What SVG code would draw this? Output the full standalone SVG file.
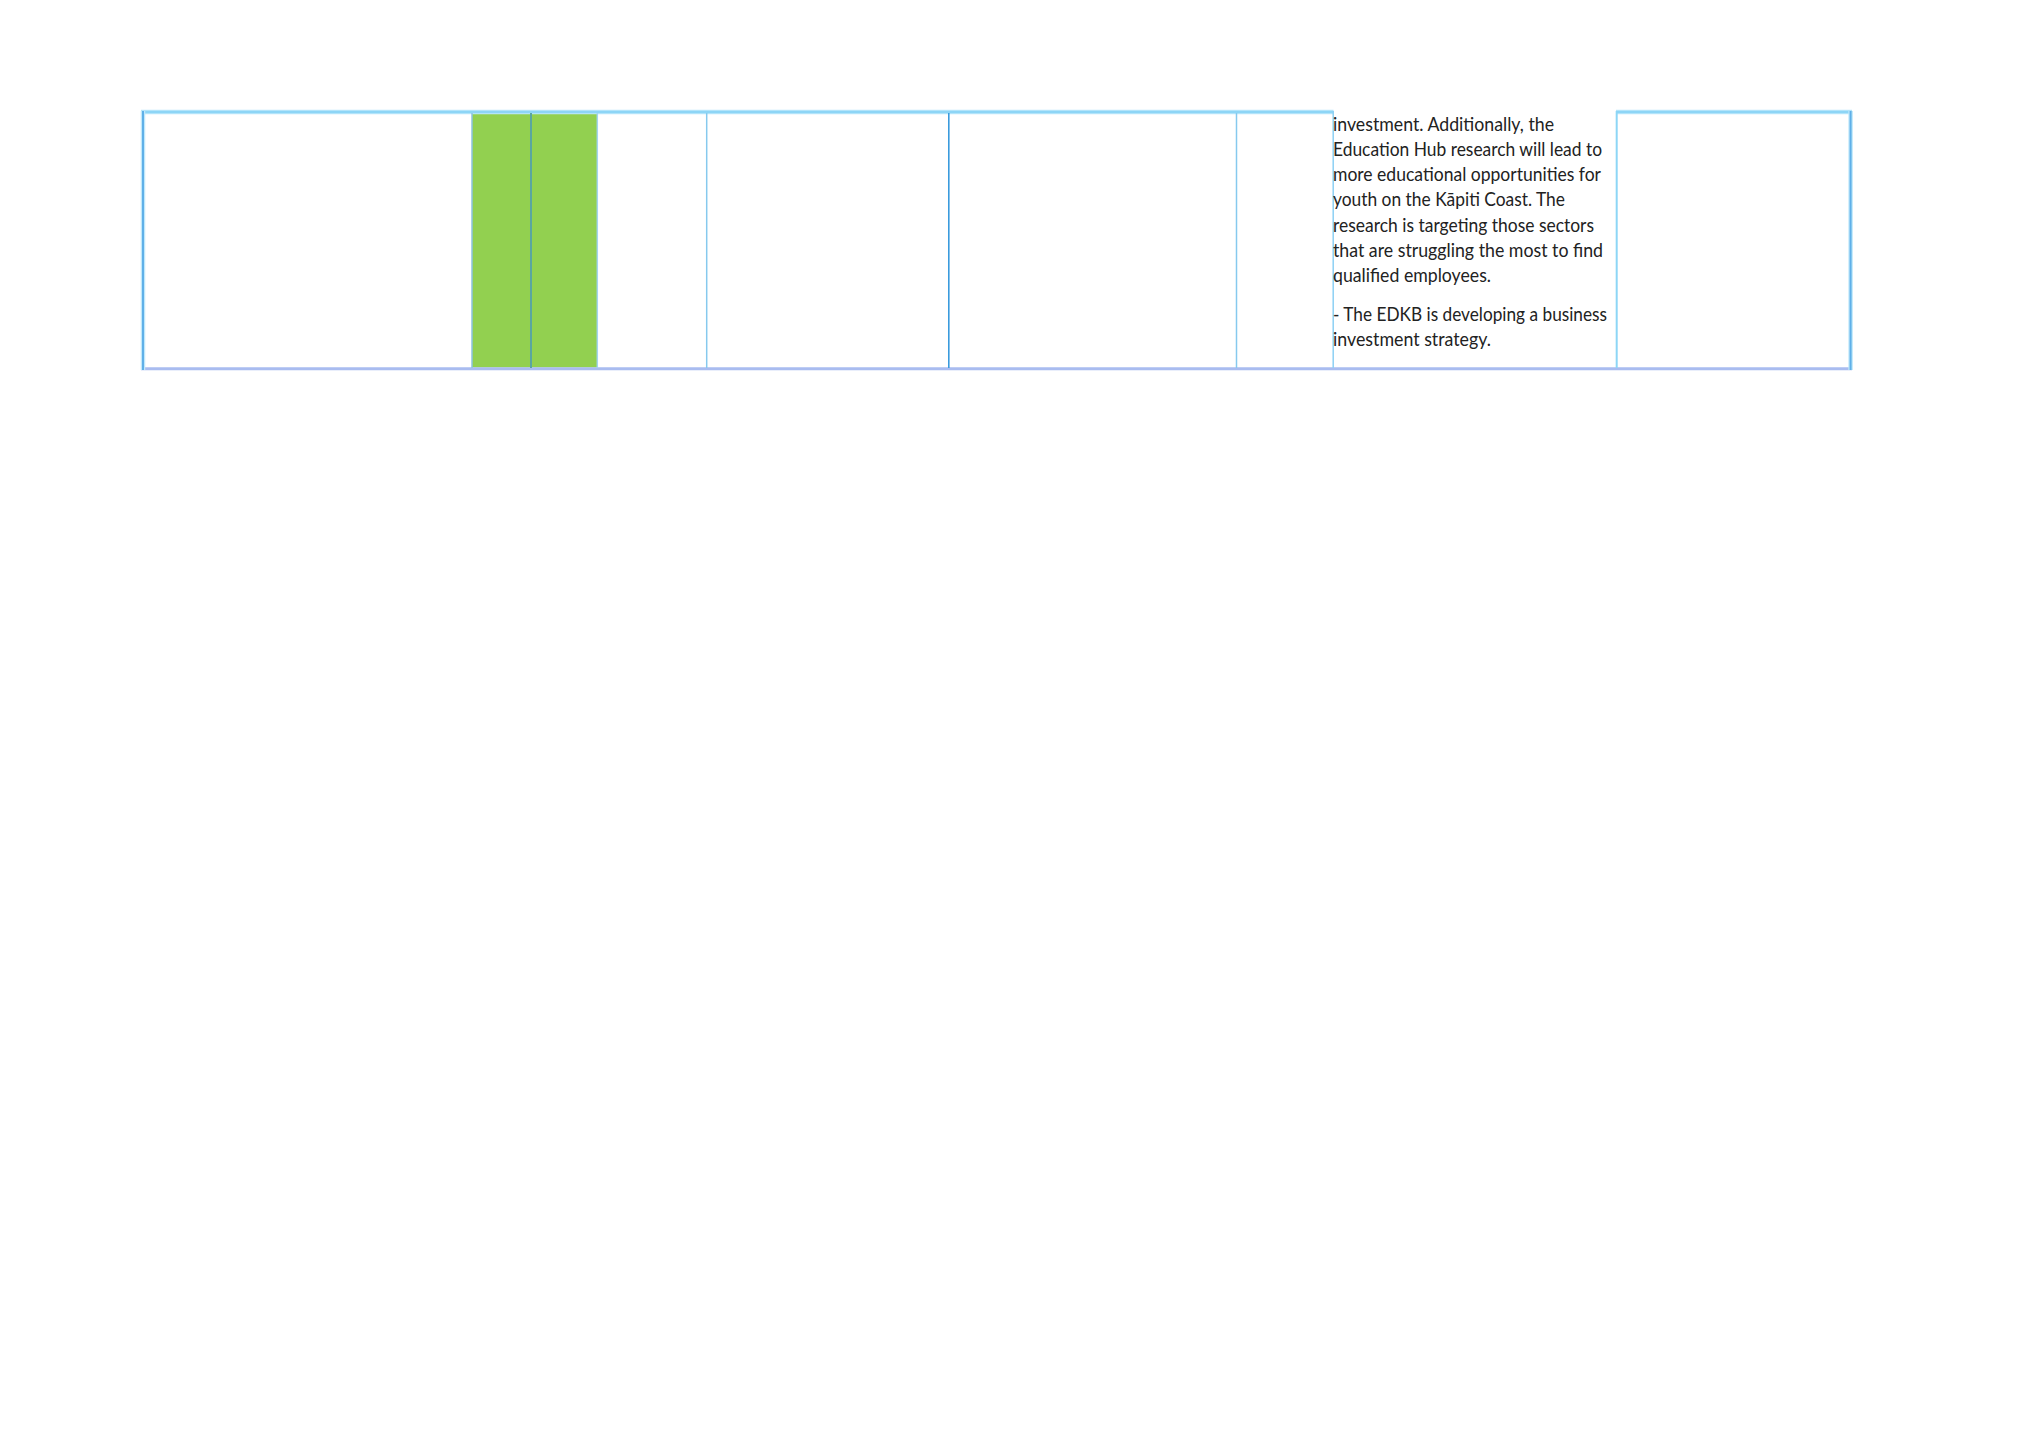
<svg xmlns="http://www.w3.org/2000/svg" width="2037" height="1432" viewBox="0 0 2037 1432">
  <style>
    .halo { stroke: #bfe8fb; stroke-width: 4.5; fill: none; }
    .top { stroke: #8dd5f6; stroke-width: 2.5; fill: none; }
    .bottom { stroke: #a9bcf0; stroke-width: 3; fill: none; }
    .outer { stroke: #5fb0e8; stroke-width: 2; fill: none; }
    .vlight { stroke: #86c9ee; stroke-width: 1.5; fill: none; }
    .vdark { stroke: #3a9bdd; stroke-width: 1.6; fill: none; }
    .txt { font-family: Lato, "Open Sans", "Liberation Sans", sans-serif; font-size: 19.4px; fill: #222222; }
  </style>
  <rect x="0" y="0" width="2037" height="1432" fill="#ffffff"/>

  <g id="cell-green-1">
    <rect x="472" y="113" width="59" height="254.5" fill="#92d050"/>
  </g>
  <g id="cell-green-2">
    <rect x="531" y="113" width="66.3" height="254.5" fill="#92d050"/>
  </g>

  <g id="grid">
    <line class="halo" x1="141" y1="112" x2="1333.5" y2="112"/>
    <line class="top" x1="141" y1="112" x2="1333.5" y2="112"/>
    <line class="halo" x1="1616" y1="112" x2="1852" y2="112"/>
    <line class="top" x1="1616" y1="112" x2="1852" y2="112"/>
    <line class="bottom" x1="141" y1="368.7" x2="1852" y2="368.7"/>
    <line class="halo" x1="143" y1="111" x2="143" y2="370"/>
    <line class="outer" x1="143" y1="111" x2="143" y2="370"/>
    <line class="halo" x1="1850.6" y1="111" x2="1850.6" y2="370"/>
    <line class="outer" x1="1850.6" y1="111" x2="1850.6" y2="370"/>
    <line x1="472" y1="113" x2="472" y2="368" stroke="#8cc3e0" stroke-width="1.5"/>
    <line x1="531" y1="113" x2="531" y2="368" stroke="#5aa6a0" stroke-width="2"/>
    <line x1="597.3" y1="113" x2="597.3" y2="368" stroke="#a4d4ee" stroke-width="1.5"/>
    <line class="vlight" x1="706.7" y1="113" x2="706.7" y2="368"/>
    <line class="vdark" x1="948.8" y1="113" x2="948.8" y2="368"/>
    <line class="vlight" x1="1236.5" y1="113" x2="1236.5" y2="368"/>
    <line x1="1333.2" y1="111" x2="1333.2" y2="368" stroke="#8dd0f4" stroke-width="1.5"/>
    <line x1="1616.7" y1="111" x2="1616.7" y2="368" stroke="#8dd6f6" stroke-width="2"/>
  </g>

  <g id="cell-text">
    <text class="txt" x="1333" y="131" textLength="221" lengthAdjust="spacingAndGlyphs">investment. Additionally, the</text>
    <text class="txt" x="1333" y="156" textLength="269" lengthAdjust="spacingAndGlyphs">Education Hub research will lead to</text>
    <text class="txt" x="1333" y="181" textLength="268" lengthAdjust="spacingAndGlyphs">more educational opportunities for</text>
    <text class="txt" x="1333" y="206" textLength="232" lengthAdjust="spacingAndGlyphs">youth on the Kāpiti Coast. The</text>
    <text class="txt" x="1333" y="231.5" textLength="261" lengthAdjust="spacingAndGlyphs">research is targeting those sectors</text>
    <text class="txt" x="1333" y="257" textLength="270" lengthAdjust="spacingAndGlyphs">that are struggling the most to find</text>
    <text class="txt" x="1333" y="282.3" textLength="158" lengthAdjust="spacingAndGlyphs">qualified employees.</text>
    <text class="txt" x="1333" y="320.7" textLength="274" lengthAdjust="spacingAndGlyphs">- The EDKB is developing a business</text>
    <text class="txt" x="1333" y="345.7" textLength="158" lengthAdjust="spacingAndGlyphs">investment strategy.</text>
  </g>
</svg>
